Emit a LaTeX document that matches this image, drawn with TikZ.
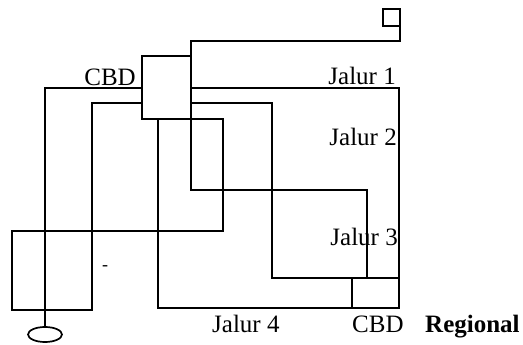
\documentclass[tikz,border=0pt]{standalone}
\usepackage{fontspec}
\setmainfont{Liberation Serif}
\usetikzlibrary{shapes.geometric}
\begin{document}
\begin{tikzpicture}[x=1pt,y=-1pt,
  wire/.style={line width=1.9pt},
  boxnode/.style={draw,line width=1.9pt,inner sep=0pt,outer sep=0pt,rectangle},
  lbl/.style={inner sep=0pt,font=\fontsize{25}{30}\selectfont}]
\useasboundingbox (0,0) rectangle (523,345);
% boxes
\node[boxnode,minimum width=49pt,minimum height=63pt] (cbd) at (166.5,87.5) {};
\node[boxnode,minimum width=47pt,minimum height=30pt] (reg) at (375.5,293) {};
\node[boxnode,minimum width=17pt,minimum height=17pt] (sq) at (391.5,17.5) {};
\node[draw,ellipse,line width=1.7pt,inner sep=0pt,outer sep=0pt,minimum width=34pt,minimum height=15pt] (ell) at (45,334.5) {};
% coordinates
\coordinate (t1) at (191,41);
\coordinate (t2) at (400,41);
\coordinate (j1a) at (191,88);
\coordinate (j1b) at (399,88);
\coordinate (j2a) at (191,103);
\coordinate (j2b) at (272,103);
\coordinate (j2c) at (272,278);
\coordinate (j3a) at (191,190);
\coordinate (j3b) at (367,190);
\coordinate (j3c) at (367,278);
\coordinate (j4a) at (158,119);
\coordinate (j4b) at (158,308);
\coordinate (r1) at (223,119);
\coordinate (r2) at (223,231);
\coordinate (r3) at (12,231);
\coordinate (r4) at (12,310);
\coordinate (r5) at (92,310);
\coordinate (r6) at (92,103);
\coordinate (r7) at (142,103);
\coordinate (l1) at (142,88);
\coordinate (l2) at (45,88);
% connectors
\draw[wire] (cbd.north east) -- (t1) -- (t2) -- (sq.south east);
\draw[wire] (j1a) -- (j1b) -- (reg.north east);
\draw[wire] (j2a) -- (j2b) -- (j2c) -- (reg.north west);
\draw[wire] (cbd.south east) -- (j3a) -- (j3b) -- (j3c);
\draw[wire] (j4a) -- (j4b) -- (reg.south west);
\draw[wire] (cbd.south east) -- (r1) -- (r2) -- (r3) -- (r4) -- (r5) -- (r6) -- (r7);
\draw[wire] (l1) -- (l2) -- (ell.north);
% labels
\node[lbl,anchor=base east] (tcbd) at (136,86) {CBD};
\node[lbl,anchor=base east] (tj1) at (396,85) {Jalur 1};
\node[lbl,anchor=base east] (tj2) at (397,146) {Jalur 2};
\node[lbl,anchor=base east] (tj3) at (398,245) {Jalur 3};
\node[lbl,anchor=base west] (tj4) at (212,332) {Jalur 4};
\node[lbl,anchor=base west] (tcbd2) at (352,332) {CBD};
\node[lbl,anchor=base west,font=\fontsize{25}{30}\selectfont\bfseries] (treg) at (425,332) {Regional};
\node[inner sep=0pt,anchor=base,font=\fontsize{18}{20}\selectfont] (dash) at (105,270) {-};
\end{tikzpicture}
\end{document}
